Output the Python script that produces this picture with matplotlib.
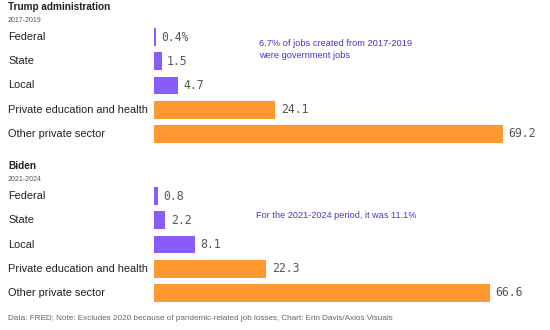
import matplotlib
matplotlib.use('Agg')
from matplotlib import pyplot as plt

plt.rcParams['font.family'] = ['Liberation Sans', 'DejaVu Sans']

# data
categories = ['Federal', 'State', 'Local', 'Private education and health', 'Other private sector']
trump_values = [0.4, 1.5, 4.7, 24.1, 69.2]
biden_values = [0.8, 2.2, 8.1, 22.3, 66.6]
trump_labels = ['0.4%', '1.5', '4.7', '24.1', '69.2']
biden_labels = ['0.8', '2.2', '8.1', '22.3', '66.6']
is_gov = [True, True, True, False, False]

purple = '#8a5cff'
orange = '#ff9830'
note_color = '#5530cc'

W, H = 550, 330
fig = plt.figure(figsize=(5.5, 3.3), dpi=100)
fig.patch.set_facecolor('white')

x0 = 154
px_per_unit = 5.04
row_h = 24.2


def panel(top_px, values, labels):
    # top_px: pixel y (from top) of the axes top edge
    n = len(values)
    h = n * row_h
    ax = fig.add_axes([x0 / W, 1 - (top_px + h) / H, (W - x0) / W, h / H])
    ax.set_xlim(0, (W - x0) / px_per_unit)
    ax.set_ylim(n - 0.5, -0.5)
    ax.axis('off')
    colors = [purple if g else orange for g in is_gov]
    ax.barh(range(n), values, height=0.73, color=colors)
    for i, (v, lab) in enumerate(zip(values, labels)):
        ax.annotate(lab, (v, i), xytext=(4, 0), textcoords='offset points',
                    va='center', ha='left', fontsize=8.3, color='#555555',
                    family='DejaVu Sans Mono')
    for i, c in enumerate(categories):
        fig.text(8 / W, 1 - (top_px + (i + 0.5) * row_h) / H, c,
                 fontsize=7.9, va='center', ha='left', color='#222222')
    return ax


panel(25, trump_values, trump_labels)
panel(184, biden_values, biden_labels)

fig.text(8 / W, 1 - 7 / H, 'Trump administration', fontsize=7.2, fontweight='bold',
         va='center', color='#222222')
fig.text(8 / W, 1 - 20 / H, '2017-2019', fontsize=5, va='center', color='#555555')
fig.text(8 / W, 1 - 166 / H, 'Biden', fontsize=7.2, fontweight='bold',
         va='center', color='#222222')
fig.text(8 / W, 1 - 179 / H, '2021-2024', fontsize=5, va='center', color='#555555')

fig.text(259 / W, 1 - 44 / H, '6.7% of jobs created from 2017-2019', fontsize=6.7,
         va='center', color=note_color)
fig.text(259 / W, 1 - 56 / H, 'were government jobs', fontsize=6.7,
         va='center', color=note_color)
fig.text(256 / W, 1 - 215 / H, 'For the 2021-2024 period, it was 11.1%', fontsize=6.6,
         va='center', color=note_color)

fig.text(8 / W, 1 - 318 / H,
         'Data: FRED; Note: Excludes 2020 because of pandemic-related job losses; Chart: Erin Davis/Axios Visuals',
         fontsize=5.9, va='center', color='#666666')

plt.savefig('out.png', dpi=100)
